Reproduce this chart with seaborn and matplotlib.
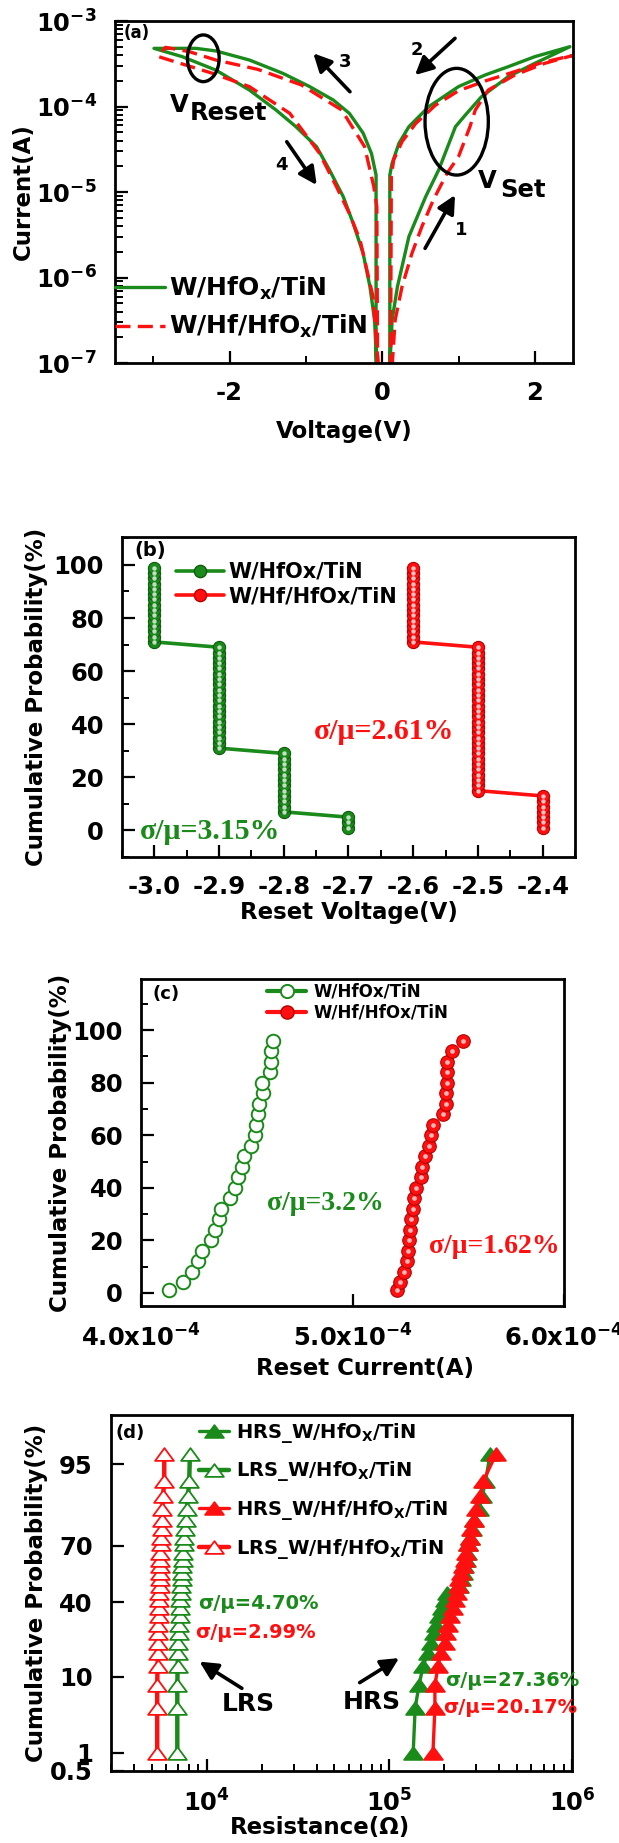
import numpy as np
import seaborn as sns
import matplotlib
matplotlib.use("Agg")
import matplotlib.pyplot as plt
from matplotlib.patches import Ellipse
from matplotlib.path import Path
from matplotlib.lines import Line2D
from matplotlib.ticker import (MultipleLocator, FixedLocator, NullLocator,
                               FuncFormatter, FormatStrFormatter, LogLocator)
from statistics import NormalDist

# ================= DATA =================
# (a) I-V sweeps in sweep order: 0 -> +V (1), +V -> 0 (2), 0 -> -V (3), -V -> 0 (4)
iv_volt_w = [0.10, 0.13, 0.20, 0.35, 0.57, 0.74, 0.96, 1.09, 1.30, 1.65, 2.00, 2.46,
             2.00, 1.65, 1.35, 1.00, 0.61, 0.35, 0.22, 0.13, 0.10, 0.10,
             -0.08, -0.08, -0.14, -0.25, -0.43, -0.64, -0.95, -1.30, -1.74, -2.18, -2.44, -2.99,
             -2.62, -2.18, -1.74, -1.39, -1.13, -0.86, -0.69, -0.51, -0.38, -0.25, -0.16, -0.10, -0.07]
iv_curr_w = [9e-8, 3.18e-7, 7.82e-7, 3.01e-6, 8.83e-6, 1.81e-5, 5.81e-5, 7.96e-5, 1.30e-4, 2.23e-4, 3.20e-4, 5.01e-4,
             3.83e-4, 2.92e-4, 2.34e-4, 1.71e-4, 9.95e-5, 5.81e-5, 3.72e-5, 2.17e-5, 1.58e-5, 9e-8,
             9e-8, 1.58e-5, 2.82e-5, 4.90e-5, 8.32e-5, 1.19e-4, 1.71e-4, 2.44e-4, 3.50e-4, 4.47e-4, 4.79e-4, 4.79e-4,
             3.83e-4, 2.67e-4, 1.56e-4, 9.10e-5, 5.81e-5, 3.39e-5, 1.81e-5, 8.83e-6, 4.31e-6, 1.92e-6, 7.82e-7, 3.18e-7, 9e-8]
iv_volt_hf = [0.13, 0.17, 0.26, 0.39, 0.52, 0.67, 0.85, 1.00, 1.15, 1.22, 1.39, 1.74, 2.13, 2.52,
              2.09, 1.74, 1.35, 1.00, 0.70, 0.44, 0.26, 0.15, 0.12, 0.11,
              -0.06, -0.07, -0.11, -0.23, -0.53, -1.06, -1.63, -2.18, -2.53, -2.84,
              -2.93, -2.22, -1.74, -1.21, -0.82, -0.60, -0.43, -0.29, -0.21, -0.12, -0.05]
iv_curr_hf = [9e-8, 3.18e-7, 7.82e-7, 1.92e-6, 3.94e-6, 8.07e-6, 1.66e-5, 2.59e-5, 5.81e-5, 9.10e-5, 1.56e-4, 2.34e-4, 3.20e-4, 4.01e-4,
              3.26e-4, 2.56e-4, 1.99e-4, 1.53e-4, 1.04e-4, 6.35e-5, 3.88e-5, 2.37e-5, 1.51e-5, 9e-8,
              9e-8, 6.76e-6, 1.16e-5, 3.39e-5, 9.10e-5, 1.79e-4, 2.72e-4, 3.50e-4, 4.39e-4, 4.92e-4,
              3.83e-4, 2.44e-4, 1.71e-4, 8.32e-5, 2.83e-5, 1.16e-5, 5.62e-6, 2.75e-6, 1.34e-6, 5.97e-7, 9e-8]

# (b) reset voltage: measured value and how many cycles gave it
vreset_levels_w = [-2.7, -2.8, -2.9, -3.0]
vreset_counts_w = [3, 12, 20, 15]
vreset_levels_hf = [-2.4, -2.5, -2.6]
vreset_counts_hf = [7, 28, 15]

# (c) reset current (A) vs cumulative probability (%)
ireset_prob = [1, 4, 8, 12, 16, 20, 24, 28, 32, 36, 40, 44, 48, 52, 56, 60, 64, 68, 72, 76, 80, 84, 88, 92, 96]
ireset_w = [4.133e-4, 4.197e-4, 4.240e-4, 4.268e-4, 4.290e-4, 4.330e-4, 4.352e-4, 4.367e-4, 4.380e-4,
            4.421e-4, 4.445e-4, 4.460e-4, 4.477e-4, 4.487e-4, 4.520e-4, 4.537e-4, 4.544e-4, 4.552e-4,
            4.557e-4, 4.576e-4, 4.571e-4, 4.610e-4, 4.615e-4, 4.615e-4, 4.625e-4]
ireset_hf = [5.208e-4, 5.225e-4, 5.243e-4, 5.258e-4, 5.262e-4, 5.268e-4, 5.271e-4, 5.277e-4, 5.286e-4,
             5.290e-4, 5.299e-4, 5.323e-4, 5.329e-4, 5.342e-4, 5.361e-4, 5.370e-4, 5.380e-4, 5.430e-4,
             5.440e-4, 5.441e-4, 5.445e-4, 5.445e-4, 5.449e-4, 5.468e-4, 5.520e-4]

# (d) resistance (ohm) vs cumulative probability (%)
res_prob = [0.98, 4.35, 8.2, 12.8, 17.1, 20.8, 24.9, 28.7, 32.7, 37.0, 41.4, 45.0, 48.7,
            52.4, 56.0, 59.6, 63.1, 66.5, 70.6, 73.7, 77.3, 81.2, 84.7, 88.6, 92.1, 96.3]
hrs_w = [135200, 138600, 145600, 153100, 162500, 169100, 176000, 179600, 186800, 194400, 201300, 206400, 239700,
         245700, 251900, 257000, 262100, 267400, 271400, 278200, 285200, 292400, 310400, 323000, 336200, 356700]
lrs_w = [6920, 6920, 6920, 6950, 6990, 7020, 7060, 7090, 7130, 7165, 7200, 7235, 7270,
         7310, 7345, 7380, 7420, 7455, 7530, 7570, 7645, 7720, 7800, 7915, 8035, 8115]
hrs_hf = [173400, 177800, 177800, 185000, 191500, 201300, 204300, 209500, 214800, 222400, 228000, 233800, 237300,
          239700, 245700, 251900, 258200, 264700, 268700, 275400, 281000, 292400, 299800, 315100, 326300, 384500]
lrs_hf = [5370, 5370, 5370, 5395, 5420, 5420, 5450, 5450, 5475, 5475, 5505, 5505, 5530,
          5530, 5555, 5555, 5585, 5585, 5615, 5640, 5670, 5700, 5725, 5780, 5870, 5870]
# ========================================

GREEN = '#1a8a1a'
DGREEN = '#0d5c0d'
RED = '#ff1010'
DRED = '#b80000'

sns.set_style("ticks")
plt.rcParams.update({
    'font.family': 'DejaVu Sans',
    'font.weight': 'bold',
    'axes.labelweight': 'bold',
    'axes.labelsize': 16.5,
    'axes.linewidth': 2.0,
    'axes.edgecolor': 'black',
    'axes.unicode_minus': False,
    'text.color': 'black',
    'axes.labelcolor': 'black',
    'xtick.color': 'black', 'ytick.color': 'black',
    'xtick.direction': 'in', 'ytick.direction': 'in',
    'xtick.major.size': 9, 'ytick.major.size': 9,
    'xtick.minor.size': 5, 'ytick.minor.size': 5,
    'xtick.major.width': 1.6, 'ytick.major.width': 1.6,
    'xtick.minor.width': 1.4, 'ytick.minor.width': 1.4,
    'xtick.major.pad': 13, 'ytick.major.pad': 13,
    'xtick.labelsize': 17.5, 'ytick.labelsize': 17.5,
})

SERIF = dict(family='Liberation Serif', fontweight='bold')

fig = plt.figure(figsize=(6.19, 18.43), dpi=100)
ax_a = fig.add_axes([0.1858, 0.8030, 0.7399, 0.1856])
ax_b = fig.add_axes([0.1971, 0.5350, 0.7318, 0.1736])
ax_c = fig.add_axes([0.2278, 0.2914, 0.6834, 0.1774])
ax_d = fig.add_axes([0.1793, 0.0391, 0.7447, 0.1932])


def place_labels(ax, xl, yl, xpos, ypos):
    ax.set_xlabel(xl)
    ax.set_ylabel(yl)
    ax.xaxis.label.set_va('center')
    ax.yaxis.label.set_va('center')
    ax.xaxis.set_label_coords(*xpos)
    ax.yaxis.set_label_coords(*ypos)


def arrow(ax, tail, head):
    ax.annotate('', xy=head, xytext=tail, xycoords='axes fraction', textcoords='axes fraction',
                arrowprops=dict(arrowstyle='-|>', color='black', lw=2.6, mutation_scale=27,
                                shrinkA=0, shrinkB=0))


# ---------------- (a) I-V ----------------
sns.lineplot(x=iv_volt_w, y=iv_curr_w, sort=False, estimator=None, color=GREEN, lw=2.4, ax=ax_a)
sns.lineplot(x=iv_volt_hf, y=iv_curr_hf, sort=False, estimator=None, color=RED, lw=2.4, ax=ax_a)
ax_a.lines[1].set_dashes((4.5, 2.2))
ax_a.set_yscale('log')
ax_a.set_xlim(-3.5, 2.5)
ax_a.set_ylim(1e-7, 1e-3)
ax_a.xaxis.set_major_locator(MultipleLocator(2))
ax_a.xaxis.set_minor_locator(MultipleLocator(1))
ax_a.yaxis.set_major_locator(LogLocator(base=10, numticks=10))
# minor ticks 2..9 in every decade of the axis
ax_a.yaxis.set_minor_locator(FixedLocator([k * 10.0 ** e for e in range(-7, -3) for k in range(2, 10)]))
ax_a.tick_params(axis='y', which='minor', length=6, width=1.4, left=True)
place_labels(ax_a, 'Voltage(V)', 'Current(A)', (0.5, -0.199), (-0.201, 0.5))

h_a = [Line2D([], [], color=GREEN, lw=2.4),
       Line2D([], [], color=RED, lw=2.4, dashes=(4.5, 2.2))]
ax_a.legend(h_a, ['W/HfO$_\\mathdefault{x}$/TiN', 'W/Hf/HfO$_\\mathdefault{x}$/TiN'],
            loc='center left', bbox_to_anchor=(0.0, 0.162), frameon=False,
            prop=dict(size=18, weight='bold'), borderpad=0, borderaxespad=0,
            handlelength=2.0, handletextpad=0.15, labelspacing=0.45)

ax_a.text(0.047, 0.964, '(a)', transform=ax_a.transAxes, ha='center', va='center', fontsize=12)
for cx, cy, w, h in [(0.1928, 0.891, 0.0692, 0.1365), (0.746, 0.7056, 0.1382, 0.312)]:
    ax_a.add_patch(Ellipse((cx, cy), w, h, transform=ax_a.transAxes, fill=False, lw=2.4, ec='black', zorder=5))
ax_a.text(0.1201, 0.7348, 'V', transform=ax_a.transAxes, ha='left', va='baseline', fontsize=17.5)
ax_a.text(0.1638, 0.7105, 'Reset', transform=ax_a.transAxes, ha='left', va='baseline', fontsize=17.5)
ax_a.text(0.7926, 0.5108, 'V', transform=ax_a.transAxes, ha='left', va='baseline', fontsize=17.5)
ax_a.text(0.8406, 0.4863, 'Set', transform=ax_a.transAxes, ha='left', va='baseline', fontsize=17.5)
arrow(ax_a, (0.7424, 0.9494), (0.655, 0.842))
arrow(ax_a, (0.677, 0.3354), (0.7424, 0.4912))
arrow(ax_a, (0.513, 0.7933), (0.433, 0.9056))
arrow(ax_a, (0.375, 0.647), (0.4404, 0.5205))
for t, x, y in [('2', 0.6587, 0.915), ('1', 0.7555, 0.389), ('3', 0.5022, 0.881), ('4', 0.364, 0.579)]:
    ax_a.text(x, y, t, transform=ax_a.transAxes, ha='center', va='center', fontsize=13)


# ---------------- (b) reset voltage ----------------
def cum_prob(levels, counts):
    v = np.repeat(levels, counts)
    p = (np.arange(1, len(v) + 1) - 0.5) / len(v) * 100
    return v, p


vb_w, pb_w = cum_prob(vreset_levels_w, vreset_counts_w)
vb_hf, pb_hf = cum_prob(vreset_levels_hf, vreset_counts_hf)
for v, p, c, dc in [(vb_w, pb_w, GREEN, DGREEN), (vb_hf, pb_hf, RED, DRED)]:
    sns.lineplot(x=v, y=p, sort=False, estimator=None, color=c, lw=2.6, marker='o',
                 markersize=8.8, markerfacecolor=c, markeredgecolor=dc, markeredgewidth=0.8, ax=ax_b)
    ax_b.plot(v, p, ls='none', marker='o', ms=3.2, mfc='white', mec='none', alpha=0.75)
ax_b.set_xlim(-3.05, -2.35)
ax_b.set_ylim(-10, 110.5)
ax_b.xaxis.set_major_locator(MultipleLocator(0.1))
ax_b.xaxis.set_minor_locator(MultipleLocator(0.05))
ax_b.xaxis.set_major_formatter(FormatStrFormatter('%.1f'))
ax_b.yaxis.set_major_locator(FixedLocator([0, 20, 40, 60, 80, 100]))
ax_b.yaxis.set_minor_locator(FixedLocator([-10, 10, 30, 50, 70, 90, 110]))
place_labels(ax_b, 'Reset Voltage(V)', 'Cumulative Probability(%)', (0.5, -0.172), (-0.188, 0.5))
h_b = [Line2D([], [], color=GREEN, lw=2.6, marker='o', ms=8.8, mfc=GREEN, mec=DGREEN),
       Line2D([], [], color=RED, lw=2.6, marker='o', ms=8.8, mfc=RED, mec=DRED)]
ax_b.legend(h_b, ['W/HfOx/TiN', 'W/Hf/HfOx/TiN'], loc='center left', bbox_to_anchor=(0.119, 0.853),
            frameon=False, prop=dict(size=15, weight='bold'), borderpad=0, borderaxespad=0,
            handlelength=2.3, handletextpad=0.2, labelspacing=0.2)
ax_b.text(0.0618, 0.959, '(b)', transform=ax_b.transAxes, ha='center', va='center', fontsize=14)
ax_b.text(0.578, 0.391, 'σ/μ=2.61%', transform=ax_b.transAxes, ha='center', va='center',
          fontsize=21.5, color=RED, **SERIF)
ax_b.text(0.194, 0.081, 'σ/μ=3.15%', transform=ax_b.transAxes, ha='center', va='center',
          fontsize=21.5, color=GREEN, **SERIF)

# ---------------- (c) reset current ----------------
sns.scatterplot(x=ireset_w, y=ireset_prob, marker='o', s=95, facecolor='white', edgecolor=GREEN,
                linewidth=1.4, ax=ax_c)
sns.scatterplot(x=ireset_hf, y=ireset_prob, marker='o', s=95, color=RED, edgecolor=DRED,
                linewidth=0.8, ax=ax_c)
ax_c.plot(ireset_hf, ireset_prob, ls='none', marker='o', ms=3.4, mfc='white', mec='none', alpha=0.7)
ax_c.set_xlim(4e-4, 6e-4)
ax_c.set_ylim(-5, 119.5)
ax_c.xaxis.set_major_locator(FixedLocator([4e-4, 5e-4, 6e-4]))
ax_c.xaxis.set_major_formatter(FuncFormatter(lambda v, _: r'$\mathdefault{%.1fx10^{-4}}$' % (v * 1e4)))
ax_c.yaxis.set_major_locator(FixedLocator([0, 20, 40, 60, 80, 100]))
ax_c.yaxis.set_minor_locator(FixedLocator([10, 30, 50, 70, 90, 110]))
place_labels(ax_c, 'Reset Current(A)', 'Cumulative Probability(%)', (0.53, -0.19), (-0.191, 0.5))
h_c = [Line2D([], [], color=GREEN, lw=3, marker='o', ms=9.5, mfc='white', mec=GREEN, mew=1.4),
       Line2D([], [], color=RED, lw=3, marker='o', ms=9.5, mfc=RED, mec=DRED)]
ax_c.legend(h_c, ['W/HfOx/TiN', 'W/Hf/HfOx/TiN'], loc='center left', bbox_to_anchor=(0.298, 0.929),
            frameon=False, prop=dict(size=12, weight='bold'), borderpad=0, borderaxespad=0,
            handlelength=2.35, handletextpad=0.45, labelspacing=0.2)
ax_c.text(0.060, 0.954, '(c)', transform=ax_c.transAxes, ha='center', va='center', fontsize=13)
ax_c.text(0.437, 0.312, 'σ/μ=3.2%', transform=ax_c.transAxes, ha='center', va='center',
          fontsize=20, color=GREEN, **SERIF)
ax_c.text(0.8345, 0.182, 'σ/μ=1.62%', transform=ax_c.transAxes, ha='center', va='center',
          fontsize=20, color=RED, **SERIF)

# ---------------- (d) resistance ----------------
tri = Path([(0, 0.68), (-1, -0.68), (1, -0.68), (0, 0.68)],
           [Path.MOVETO, Path.LINETO, Path.LINETO, Path.CLOSEPOLY])
series_d = [(hrs_w, GREEN, GREEN, 2.4), (lrs_w, GREEN, 'white', 3.2),
            (hrs_hf, RED, RED, 2.4), (lrs_hf, RED, 'white', 3.2)]
for r, c, fc, lw in series_d:
    sns.lineplot(x=r, y=res_prob, sort=False, estimator=None, color=c, lw=lw, marker=tri,
                 markersize=13.5, markerfacecolor=fc, markeredgecolor=c, markeredgewidth=1.3, ax=ax_d)

_nd = NormalDist()
_ppf = np.vectorize(_nd.inv_cdf, otypes=[float])
_cdf = np.vectorize(_nd.cdf, otypes=[float])


def prob_fwd(p):
    p = np.clip(np.asarray(p, dtype=float) / 100.0, 1e-9, 1 - 1e-9)
    return _ppf(p)


def prob_inv(z):
    return _cdf(np.asarray(z, dtype=float)) * 100.0


ax_d.set_xscale('log')
ax_d.set_yscale('function', functions=(prob_fwd, prob_inv))
ax_d.set_xlim(3000, 1e6)
ax_d.set_ylim(0.5, 99)
ax_d.yaxis.set_major_locator(FixedLocator([0.5, 1, 10, 40, 70, 95]))
ax_d.yaxis.set_major_formatter(FuncFormatter(lambda v, _: '%g' % v))
ax_d.yaxis.set_minor_locator(NullLocator())
ax_d.xaxis.set_minor_locator(LogLocator(base=10, subs=np.arange(2, 10), numticks=100))
place_labels(ax_d, 'Resistance(Ω)', 'Cumulative Probability(%)', (0.453, -0.16), (-0.1616, 0.5))
h_d = [Line2D([], [], color=c, lw=lw, marker=tri, ms=13.5, mfc=fc, mec=c, mew=1.3)
       for _, c, fc, lw in series_d]
ax_d.legend(h_d, ['HRS_W/HfO$_\\mathdefault{X}$/TiN', 'LRS_W/HfO$_\\mathdefault{X}$/TiN',
                  'HRS_W/Hf/HfO$_\\mathdefault{X}$/TiN', 'LRS_W/Hf/HfO$_\\mathdefault{X}$/TiN'],
            loc='center left', bbox_to_anchor=(0.192, 0.787), frameon=False,
            prop=dict(size=14, weight='bold'), borderpad=0, borderaxespad=0,
            handlelength=1.5, handletextpad=0.36, labelspacing=0.75)
ax_d.text(0.041, 0.949, '(d)', transform=ax_d.transAxes, ha='center', va='center', fontsize=13)
for t, x, y, c in [('σ/μ=4.70%', 0.188, 0.469, GREEN), ('σ/μ=2.99%', 0.1835, 0.389, RED),
                   ('σ/μ=27.36%', 0.724, 0.253, GREEN), ('σ/μ=20.17%', 0.721, 0.178, RED)]:
    ax_d.text(x, y, t, transform=ax_d.transAxes, ha='left', va='center', fontsize=14, color=c)
ax_d.text(0.2985, 0.188, 'LRS', transform=ax_d.transAxes, ha='center', va='center', fontsize=18)
ax_d.text(0.566, 0.194, 'HRS', transform=ax_d.transAxes, ha='center', va='center', fontsize=18)
arrow(ax_d, (0.284, 0.232), (0.192, 0.307))
arrow(ax_d, (0.5395, 0.248), (0.625, 0.317))

for ax in (ax_a, ax_b, ax_c, ax_d):
    ax.tick_params(which='both', direction='in', top=False, right=False)
    for s in ax.spines.values():
        s.set_visible(True)

fig.savefig('out.png', dpi=100)
